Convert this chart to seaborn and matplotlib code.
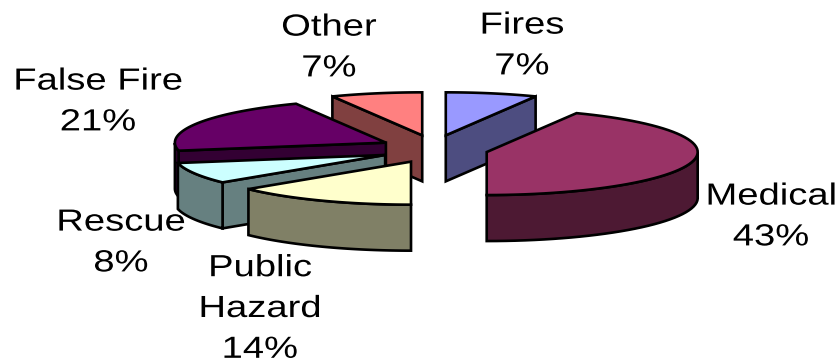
import numpy as np
import seaborn as sns
import matplotlib
matplotlib.use("Agg")
import matplotlib.pyplot as plt
from matplotlib.patheffects import AbstractPathEffect
from matplotlib.transforms import Affine2D

categories = ["Fires", "Medical", "Public\nHazard", "Rescue", "False Fire", "Other"]
values = [7, 43, 14, 8, 21, 7]
top_colors = ["#9999FF", "#993366", "#FFFFCC", "#CCFFFF", "#660066", "#FF8080"]
side_colors = ["#4D4D80", "#4D1933", "#808066", "#668080", "#330033", "#804040"]
label_xy = [(522, 46), (771, 217), (260, 309), (121, 243), (98, 102), (329, 48)]
draw_order = [5, 4, 3, 2, 0, 1]

CX, CY, RX, RY, DEPTH = 434, 149, 211, 43, 46
EX, EY = 54, 14


class WideText(AbstractPathEffect):
    """Widen each text line about its own centre; the text stays a text object."""

    def __init__(self, factor):
        super().__init__()
        self.factor = factor

    def draw_path(self, renderer, gc, tpath, affine, rgbFace=None):
        ext = tpath.get_extents()
        mid = (ext.x0 + ext.x1) / 2
        widen = Affine2D().translate(-mid, 0).scale(self.factor, 1).translate(mid, 0)
        renderer.draw_path(gc, tpath, widen + affine, rgbFace)


sns.set_theme(style="white")
plt.rcParams["font.family"] = ["Liberation Sans", "DejaVu Sans"]

fig = plt.figure(figsize=(8.4, 3.64), dpi=100)
ax = fig.add_axes([0, 0, 1, 1])
ax.set_xlim(0, 840)
ax.set_ylim(364, 0)
ax.axis("off")

total = sum(values)
edges = np.concatenate([[0], np.cumsum(values)]) / total * 2 * np.pi
stroke = dict(edgecolor="black", linewidth=1.9, joinstyle="miter")

for i in draw_order:
    a0, a1 = edges[i], edges[i + 1]
    mid = (a0 + a1) / 2
    cx = CX + EX * np.sin(mid)
    cy = CY - EY * np.cos(mid)
    t = np.linspace(a0, a1, 60)
    px, py = cx + RX * np.sin(t), cy - RY * np.cos(t)
    z = 10 + draw_order.index(i) * 3
    # only the radial wall that faces the viewer
    for ang, visible in ((a0, np.sin(a0) < 0), (a1, np.sin(a1) > 0)):
        if visible:
            ex, ey = cx + RX * np.sin(ang), cy - RY * np.cos(ang)
            ax.fill([cx, ex, ex, cx], [cy, ey, ey + DEPTH, cy + DEPTH],
                    facecolor=side_colors[i], zorder=z, **stroke)
    # outer wall where the rim faces the viewer
    mask = np.cos(t) <= 0
    if mask.any():
        rx_, ry_ = px[mask], py[mask]
        ax.fill(np.r_[rx_, rx_[::-1]], np.r_[ry_, ry_[::-1] + DEPTH],
                facecolor=side_colors[i], zorder=z + 1, **stroke)
    ax.fill(np.r_[cx, px], np.r_[cy, py], facecolor=top_colors[i], zorder=z + 2, **stroke)

for name, v, (x, y) in zip(categories, values, label_xy):
    ax.text(x, y, f"{name}\n{v}%", ha="center", va="center", fontsize=22,
            color="black", linespacing=1.47, zorder=40,
            path_effects=[WideText(1.25)])

fig.savefig("out.png", dpi=100, facecolor="white")
